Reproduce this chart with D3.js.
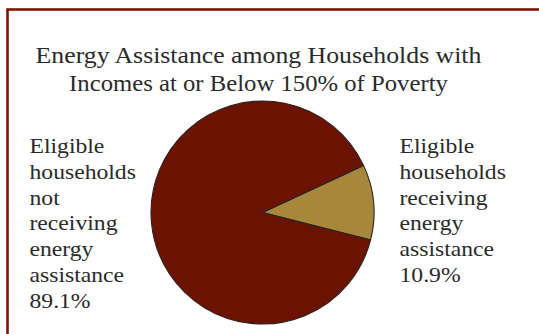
<!DOCTYPE html>
<html>
<head>
<meta charset="utf-8">
<script src="https://cdn.jsdelivr.net/npm/d3@7"></script>
<style>
  html, body { margin: 0; padding: 0; background: #fff; }
  svg { display: block; }
  text { font-family: "Liberation Serif", "Times New Roman", serif; fill: #2a2a2a; }
</style>
</head>
<body>
<svg id="chart" width="539" height="334"></svg>
<script>
const titleLines = ["Energy Assistance among Households with", "Incomes at or Below 150% of Poverty"];
const categories = ["Eligible households receiving energy assistance", "Eligible households not receiving energy assistance"];
const values = [10.9, 89.1];
const colors = ["#A6873B", "#6C1200"];
const labelLines = [
  ["Eligible", "households", "receiving", "energy", "assistance", "10.9%"],
  ["Eligible", "households", "not", "receiving", "energy", "assistance", "89.1%"]
];

const svg = d3.select("#chart");
const W = 539, H = 334;

// frame
svg.append("rect")
  .attr("x", 7.5).attr("y", 9.5)
  .attr("width", W + 20).attr("height", H + 20)
  .attr("fill", "none").attr("stroke", "#7A1606").attr("stroke-width", 2.6);

// title: scale horizontally to mimic the wider Palatino-like face
const titleWidths = [446, 379];
titleLines.forEach((line, i) => {
  const g = svg.append("g");
  const t = g.append("text").attr("text-anchor", "middle").style("font-size", "22.5px").text(line);
  const sx = titleWidths[i] / t.node().getComputedTextLength();
  g.attr("transform", `translate(258.5,${62.5 + i * 28.8}) scale(${sx},1)`);
});

// pie
const cx = 262.5, cy = 212.5, r = 111.5;
const start = 65 * Math.PI / 180;
const pie = d3.pie().sort(null).value(d => d).startAngle(start).endAngle(start + 2 * Math.PI);
const arc = d3.arc().innerRadius(0).outerRadius(r);
svg.append("g").attr("transform", `translate(${cx},${cy})`)
  .selectAll("path").data(pie(values)).join("path")
  .attr("d", arc)
  .attr("fill", (d, i) => colors[i])
  .attr("stroke", "#2b2323").attr("stroke-width", 1.1);

// labels
const labelX = [399.5, 29.5];
labelLines.forEach((lines, k) => {
  lines.forEach((line, i) => {
    svg.append("g")
      .attr("transform", `translate(${labelX[k]},${153.3 + i * 25.7}) scale(1.1,1)`)
      .append("text").style("font-size", "21.5px").text(line);
  });
});
</script>
</body>
</html>
